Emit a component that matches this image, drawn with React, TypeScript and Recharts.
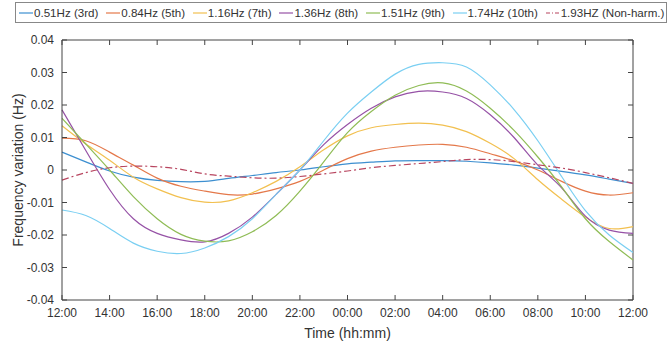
import React from 'react';
import { LineChart, Line, XAxis, YAxis, ReferenceLine } from 'recharts';

// hours after 12:00 on the first day
const hours = [0, 1, 2, 3, 4, 5, 6, 7, 8, 9, 10, 11, 12, 13, 14, 15, 16, 17, 18, 19, 20, 21, 22, 23, 24];

const xTicks = [0, 2, 4, 6, 8, 10, 12, 14, 16, 18, 20, 22, 24];
const xTickLabels = ['12:00', '14:00', '16:00', '18:00', '20:00', '22:00', '00:00', '02:00', '04:00', '06:00', '08:00', '10:00', '12:00'];
const yTicks = [-0.04, -0.03, -0.02, -0.01, 0, 0.01, 0.02, 0.03, 0.04];
const yTickLabels = ['-0.04', '-0.03', '-0.02', '-0.01', '0', '0.01', '0.02', '0.03', '0.04'];

const f051 = [0.0055, 0.0025, -0.0003, -0.0022, -0.0032, -0.0036, -0.0035, -0.0026, -0.0017, -0.0008, 0.0, 0.001, 0.0019, 0.0024, 0.0028, 0.0029, 0.0029, 0.0027, 0.0022, 0.0015, 0.0006, -0.0004, -0.0015, -0.0028, -0.0041];
const f084 = [0.0098, 0.009, 0.0055, 0.0015, -0.0025, -0.005, -0.0065, -0.0076, -0.0074, -0.0058, -0.0035, 0.0, 0.0035, 0.0058, 0.007, 0.0077, 0.0079, 0.007, 0.005, 0.0028, 0.0, -0.0035, -0.0065, -0.0077, -0.007];
const f116 = [0.0136, 0.008, 0.003, -0.0022, -0.0058, -0.0085, -0.0099, -0.0095, -0.007, -0.0035, 0.001, 0.0062, 0.0105, 0.013, 0.014, 0.0144, 0.0138, 0.0118, 0.0082, 0.0035, -0.003, -0.009, -0.0145, -0.018, -0.0174];
const f136 = [0.0185, 0.006, -0.006, -0.015, -0.0195, -0.0215, -0.0221, -0.0195, -0.0145, -0.0075, 0.0, 0.0078, 0.014, 0.019, 0.0225, 0.0242, 0.024, 0.022, 0.017, 0.01, 0.0015, -0.0055, -0.0142, -0.0185, -0.0195];
const f151 = [0.0159, 0.008, 0.0, -0.0082, -0.015, -0.0198, -0.0219, -0.0218, -0.019, -0.014, -0.0065, 0.0025, 0.0115, 0.018, 0.023, 0.026, 0.0268, 0.0243, 0.019, 0.0122, 0.004, -0.0052, -0.015, -0.022, -0.0277];
const f174 = [-0.0123, -0.014, -0.018, -0.0225, -0.025, -0.0257, -0.024, -0.0205, -0.015, -0.0075, 0.0, 0.009, 0.0175, 0.024, 0.0295, 0.0325, 0.033, 0.0317, 0.0262, 0.0186, 0.009, -0.002, -0.0125, -0.02, -0.0254];
const f193 = [-0.0031, -0.0008, 0.0007, 0.0012, 0.001, 0.0002, -0.0012, -0.0019, -0.0024, -0.0025, -0.002, -0.0012, -0.0003, 0.0007, 0.0014, 0.002, 0.0026, 0.0032, 0.0032, 0.0026, 0.0016, 0.0006, -0.0008, -0.0024, -0.0041];

const seriesKeys = ['f051', 'f084', 'f116', 'f136', 'f151', 'f174', 'f193'];
const seriesValues = [f051, f084, f116, f136, f151, f174, f193];
const seriesNames = ['0.51Hz (3rd)', '0.84Hz (5th)', '1.16Hz (7th)', '1.36Hz (8th)', '1.51Hz (9th)', '1.74Hz (10th)', '1.93HZ (Non-harm.)'];
const seriesColors = ['#3d8fd0', '#e4784a', '#f2c050', '#9652a6', '#8fbc55', '#7acff2', '#b8455f'];

const data = hours.map((h, i) => {
  const row: Record<string, number> = { h };
  seriesKeys.forEach((k, j) => {
    row[k] = seriesValues[j][i];
  });
  return row;
});

const FONT = '"Liberation Sans", Arial, Helvetica, sans-serif';
const AXIS = '#444';
const TEXT = '#333';
const TICK_LEN = 5;
const PLOT_W = 571; // 62 -> 633, right box edge sits this far from the left axis

// matlab style: tick marks point into the box
function BottomTick({ x, y, index }: any) {
  return (
    <g>
      <line x1={x} y1={y - 8} x2={x} y2={y - 8 - TICK_LEN} stroke={AXIS} />
      <text x={x} y={y} dy="0.71em" textAnchor="middle" fill={TEXT} fontSize={12} fontFamily={FONT}>
        {xTickLabels[index]}
      </text>
    </g>
  );
}

function TopTick({ x, y }: any) {
  return <line x1={x} y1={y} x2={x} y2={y + TICK_LEN} stroke={AXIS} />;
}

// left tick also draws the mirrored tick on the right edge of the box
function LeftTick({ x, y, index }: any) {
  const left = x + 8;
  const right = left + PLOT_W;
  return (
    <g>
      <line x1={left} y1={y} x2={left + TICK_LEN} y2={y} stroke={AXIS} />
      <line x1={right} y1={y} x2={right - TICK_LEN} y2={y} stroke={AXIS} />
      <text x={x} y={y} dy="0.355em" textAnchor="end" fill={TEXT} fontSize={12} fontFamily={FONT}>
        {yTickLabels[index]}
      </text>
    </g>
  );
}

function LegendBox() {
  return (
    <div
      style={{
        position: 'absolute',
        left: 15,
        top: 2,
        width: 652,
        height: 21,
        border: '1px solid #888',
        boxSizing: 'border-box',
        display: 'flex',
        alignItems: 'center',
        paddingLeft: 3,
        fontFamily: FONT,
        fontSize: 11.6,
        color: TEXT,
        whiteSpace: 'nowrap',
      }}
    >
      {seriesNames.map((name, i) => (
        <div key={name} style={{ display: 'flex', alignItems: 'center', marginRight: 7.8 }}>
          <svg width={14} height={6} style={{ marginRight: 1 }}>
            <line
              x1={0}
              y1={3}
              x2={14}
              y2={3}
              stroke={seriesColors[i]}
              strokeWidth={1.2}
              strokeDasharray={i === 6 ? '4 2 1 2' : undefined}
            />
          </svg>
          <span>{name}</span>
        </div>
      ))}
    </div>
  );
}

export default function App() {
  return (
    <div style={{ position: 'absolute', left: 0, top: 0, width: 668, height: 343, background: '#fff' }}>
      <LineChart width={668} height={343} data={data} margin={{ top: 39, right: 35, left: 0, bottom: 0 }}>
        <XAxis
          dataKey="h"
          type="number"
          domain={[0, 24]}
          ticks={xTicks}
          height={43}
          stroke={AXIS}
          tickLine={false}
          tickSize={0}
          tickMargin={8}
          tick={<BottomTick />}
          label={{
            content: ({ viewBox }: any) => (
              <text
                x={viewBox.x + viewBox.width / 2}
                y={viewBox.y + 33}
                textAnchor="middle"
                dominantBaseline="central"
                fill={TEXT}
                fontSize={14}
                fontFamily={FONT}
              >
                Time (hh:mm)
              </text>
            ),
          }}
        />
        <XAxis
          xAxisId="top"
          orientation="top"
          dataKey="h"
          type="number"
          domain={[0, 24]}
          ticks={xTicks}
          height={1}
          stroke={AXIS}
          tickLine={false}
          tickSize={0}
          tickMargin={0}
          tick={<TopTick />}
        />
        <YAxis
          type="number"
          domain={[-0.04, 0.04]}
          ticks={yTicks}
          width={62}
          stroke={AXIS}
          tickLine={false}
          tickSize={0}
          tickMargin={8}
          tick={<LeftTick />}
          label={{
            content: ({ viewBox }: any) => {
              const cx = viewBox.x + 18;
              const cy = viewBox.y + viewBox.height / 2;
              return (
                <text
                  x={cx}
                  y={cy}
                  transform={`rotate(-90, ${cx}, ${cy})`}
                  textAnchor="middle"
                  dominantBaseline="central"
                  fill={TEXT}
                  fontSize={14}
                  fontFamily={FONT}
                >
                  Frequency variation (Hz)
                </text>
              );
            },
          }}
        />
        {/* right edge of the box */}
        <ReferenceLine x={24} stroke={AXIS} />
        {seriesKeys.map((k, i) => (
          <Line
            key={k}
            dataKey={k}
            name={seriesNames[i]}
            type="natural"
            stroke={seriesColors[i]}
            strokeWidth={1.2}
            strokeDasharray={i === 6 ? '7 3 2 3' : undefined}
            dot={false}
            isAnimationActive={false}
          />
        ))}
      </LineChart>
      <LegendBox />
    </div>
  );
}
